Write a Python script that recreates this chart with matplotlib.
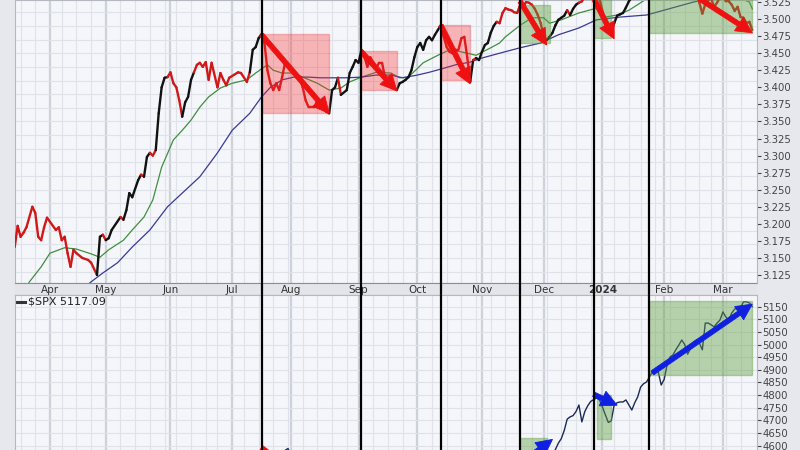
import numpy as np
import pandas as pd
import matplotlib
matplotlib.use("Agg")
import matplotlib.pyplot as plt
from matplotlib.collections import LineCollection
from matplotlib.patches import Rectangle, Polygon

# trading calendar (one slot per session, like the original chart)
holidays = ["2023-04-07", "2023-05-29", "2023-06-19", "2023-07-04", "2023-09-04",
            "2023-11-23", "2023-12-25", "2024-01-01", "2024-01-15", "2024-02-19"]
sessions = pd.bdate_range("2023-03-16", "2024-03-15", freq="C", holidays=holidays)

# ratio line (top panel)
price_dates = [
    "2023-03-16", "2023-03-17", "2023-03-20", "2023-03-21", "2023-03-22", "2023-03-24", "2023-03-27",
    "2023-03-28", "2023-03-29", "2023-03-30", "2023-03-31", "2023-04-05", "2023-04-06", "2023-04-10",
    "2023-04-11", "2023-04-12", "2023-04-13", "2023-04-14", "2023-04-17", "2023-04-19", "2023-04-21",
    "2023-04-24", "2023-04-26", "2023-04-27", "2023-04-28", "2023-05-01", "2023-05-02", "2023-05-03",
    "2023-05-08", "2023-05-09", "2023-05-10", "2023-05-11", "2023-05-12", "2023-05-16", "2023-05-17",
    "2023-05-18", "2023-05-19", "2023-05-22", "2023-05-23", "2023-05-24", "2023-05-25", "2023-05-26",
    "2023-05-30", "2023-05-31", "2023-06-01", "2023-06-02", "2023-06-05", "2023-06-06", "2023-06-07",
    "2023-06-08", "2023-06-09", "2023-06-12", "2023-06-13", "2023-06-14", "2023-06-15", "2023-06-16",
    "2023-06-20", "2023-06-21", "2023-06-22", "2023-06-26", "2023-06-27", "2023-06-28", "2023-06-29",
    "2023-06-30", "2023-07-06", "2023-07-07", "2023-07-11", "2023-07-12", "2023-07-13", "2023-07-14",
    "2023-07-17", "2023-07-18", "2023-07-19", "2023-07-20", "2023-07-21", "2023-07-24", "2023-07-25",
    "2023-07-26", "2023-07-27", "2023-07-28", "2023-07-31", "2023-08-01", "2023-08-02", "2023-08-03",
    "2023-08-04", "2023-08-07", "2023-08-08", "2023-08-09", "2023-08-11", "2023-08-14", "2023-08-15",
    "2023-08-17", "2023-08-18", "2023-08-21", "2023-08-22", "2023-08-23", "2023-08-24", "2023-08-28",
    "2023-08-29", "2023-08-30", "2023-08-31", "2023-09-01", "2023-09-05", "2023-09-06", "2023-09-07",
    "2023-09-08", "2023-09-11", "2023-09-12", "2023-09-13", "2023-09-14", "2023-09-15", "2023-09-18",
    "2023-09-19", "2023-09-21", "2023-09-22", "2023-09-25", "2023-09-26", "2023-09-27", "2023-09-28",
    "2023-09-29", "2023-10-02", "2023-10-03", "2023-10-04", "2023-10-05", "2023-10-06", "2023-10-09",
    "2023-10-10", "2023-10-11", "2023-10-12", "2023-10-13", "2023-10-16", "2023-10-17", "2023-10-18",
    "2023-10-19", "2023-10-20", "2023-10-23", "2023-10-24", "2023-10-25", "2023-10-26", "2023-10-27",
    "2023-10-30", "2023-10-31", "2023-11-01", "2023-11-02", "2023-11-03", "2023-11-06", "2023-11-07",
    "2023-11-08", "2023-11-09", "2023-11-10", "2023-11-13", "2023-11-14", "2023-11-15", "2023-11-16",
    "2023-11-17", "2023-11-20", "2023-11-21", "2023-11-22", "2023-11-24", "2023-11-27", "2023-11-28",
    "2023-11-29", "2023-11-30", "2023-12-01", "2023-12-04", "2023-12-05", "2023-12-06", "2023-12-07",
    "2023-12-08", "2023-12-11", "2023-12-12", "2023-12-13", "2023-12-14", "2023-12-15", "2023-12-18",
    "2023-12-19", "2023-12-20", "2023-12-21", "2023-12-22", "2023-12-26", "2023-12-27", "2023-12-28",
    "2023-12-29", "2024-01-02", "2024-01-03", "2024-01-04", "2024-01-05", "2024-01-08", "2024-01-09",
    "2024-01-10", "2024-01-11", "2024-01-12", "2024-01-16", "2024-01-17", "2024-01-18", "2024-01-22",
    "2024-01-25", "2024-01-30", "2024-02-02", "2024-02-07", "2024-02-12", "2024-02-15", "2024-02-16",
    "2024-02-20", "2024-02-21", "2024-02-22", "2024-02-23", "2024-02-26", "2024-02-27", "2024-02-28",
    "2024-02-29", "2024-03-01", "2024-03-04", "2024-03-05", "2024-03-06", "2024-03-07", "2024-03-08",
    "2024-03-11", "2024-03-12", "2024-03-13", "2024-03-14", "2024-03-15"]
price_vals = [
    3.166, 3.197, 3.181, 3.187, 3.195, 3.225, 3.216,
    3.181, 3.176, 3.195, 3.209, 3.191, 3.195, 3.176,
    3.181, 3.157, 3.137, 3.162, 3.157, 3.150, 3.147,
    3.143, 3.125, 3.181, 3.184, 3.176, 3.179, 3.191,
    3.210, 3.206, 3.220, 3.245, 3.239, 3.264, 3.272,
    3.269, 3.298, 3.304, 3.300, 3.308, 3.362, 3.400,
    3.414, 3.415, 3.422, 3.406, 3.400, 3.381, 3.357,
    3.378, 3.386, 3.411, 3.422, 3.433, 3.436, 3.430,
    3.437, 3.411, 3.436, 3.400, 3.421, 3.411, 3.403,
    3.414, 3.422, 3.421, 3.408, 3.422, 3.455, 3.459,
    3.472, 3.478, 3.465, 3.425, 3.406, 3.396, 3.406,
    3.396, 3.415, 3.436, 3.433, 3.428, 3.421, 3.414,
    3.415, 3.400, 3.381, 3.371, 3.371, 3.381, 3.374,
    3.364, 3.362, 3.396, 3.400, 3.414, 3.389, 3.396,
    3.421, 3.430, 3.440, 3.436, 3.455, 3.445, 3.430,
    3.444, 3.437, 3.428, 3.436, 3.436, 3.415, 3.408,
    3.400, 3.396, 3.406, 3.408, 3.411, 3.415, 3.425,
    3.444, 3.459, 3.465, 3.455, 3.469, 3.474, 3.469,
    3.477, 3.484, 3.491, 3.474, 3.459, 3.452, 3.450,
    3.455, 3.455, 3.472, 3.474, 3.444, 3.408, 3.440,
    3.443, 3.440, 3.452, 3.462, 3.465, 3.480, 3.490,
    3.496, 3.494, 3.509, 3.516, 3.514, 3.513, 3.510,
    3.509, 3.521, 3.518, 3.525, 3.524, 3.521, 3.515,
    3.506, 3.494, 3.474, 3.469, 3.474, 3.480, 3.491,
    3.499, 3.502, 3.505, 3.513, 3.506, 3.515, 3.521,
    3.524, 3.526, 3.533, 3.536, 3.540, 3.538, 3.534,
    3.530, 3.512, 3.493, 3.486, 3.481, 3.494, 3.505,
    3.507, 3.509, 3.517, 3.526, 3.532, 3.535, 3.545,
    3.550, 3.545, 3.548, 3.555, 3.552, 3.545, 3.535,
    3.524, 3.508, 3.522, 3.528, 3.530, 3.518, 3.524,
    3.532, 3.535, 3.526, 3.526, 3.521, 3.512, 3.518,
    3.503, 3.502, 3.494, 3.496, 3.484]

# stretches where the line is drawn red
red_spans = [("2023-03-16", "2023-04-26"), ("2023-04-28", "2023-05-01"), ("2023-05-08", "2023-05-09"),
             ("2023-05-17", "2023-05-18"), ("2023-05-22", "2023-05-24"), ("2023-05-31", "2023-06-07"),
             ("2023-06-13", "2023-07-12"), ("2023-07-18", "2023-08-18"), ("2023-08-23", "2023-08-24"),
             ("2023-09-05", "2023-09-21"), ("2023-10-12", "2023-10-26"), ("2023-10-27", "2023-10-30"),
             ("2023-11-08", "2023-12-04"), ("2023-12-13", "2023-12-14"), ("2023-12-19", "2024-01-04"),
             ("2024-02-16", "2024-03-15")]

ma_fast_dates = ["2023-03-21", "2023-03-23", "2023-03-29", "2023-04-03", "2023-04-11", "2023-04-17",
                 "2023-04-24", "2023-04-27", "2023-05-02", "2023-05-09", "2023-05-12", "2023-05-18",
                 "2023-05-23", "2023-05-26", "2023-06-02", "2023-06-07", "2023-06-12", "2023-06-15",
                 "2023-06-21", "2023-06-27", "2023-07-03", "2023-07-11", "2023-07-14", "2023-07-20",
                 "2023-07-24", "2023-07-27", "2023-08-02", "2023-08-07", "2023-08-14", "2023-08-18",
                 "2023-08-24", "2023-08-29", "2023-09-05", "2023-09-12", "2023-09-19", "2023-09-22",
                 "2023-09-27", "2023-10-04", "2023-10-11", "2023-10-17", "2023-10-23", "2023-10-30",
                 "2023-11-06", "2023-11-09", "2023-11-13", "2023-11-20", "2023-11-27", "2023-12-01",
                 "2023-12-05", "2023-12-11", "2023-12-19", "2023-12-28", "2024-01-03", "2024-01-09",
                 "2024-01-16", "2024-01-22", "2024-01-29", "2024-02-07", "2024-02-16", "2024-02-29",
                 "2024-03-08", "2024-03-14", "2024-03-15"]
ma_fast_vals = [3.100, 3.115, 3.137, 3.157, 3.165, 3.163,
                3.156, 3.151, 3.162, 3.176, 3.191, 3.210,
                3.235, 3.283, 3.323, 3.337, 3.352, 3.371,
                3.386, 3.399, 3.406, 3.411, 3.421, 3.433,
                3.425, 3.421, 3.421, 3.415, 3.406, 3.396,
                3.399, 3.408, 3.415, 3.422, 3.421, 3.414,
                3.415, 3.436, 3.447, 3.455, 3.452, 3.447,
                3.458, 3.465, 3.474, 3.491, 3.502, 3.502,
                3.494, 3.499, 3.509, 3.516, 3.503, 3.506,
                3.513, 3.524, 3.538, 3.545, 3.546, 3.540,
                3.532, 3.525, 3.515]

ma_slow_dates = ["2023-04-19", "2023-04-24", "2023-04-28", "2023-05-05", "2023-05-12", "2023-05-22",
                 "2023-05-31", "2023-06-07", "2023-06-15", "2023-06-26", "2023-07-03", "2023-07-12",
                 "2023-07-18", "2023-07-21", "2023-07-27", "2023-08-02", "2023-08-09", "2023-08-15",
                 "2023-08-21", "2023-08-28", "2023-09-05", "2023-09-12", "2023-09-19", "2023-09-25",
                 "2023-10-02", "2023-10-06", "2023-10-13", "2023-10-19", "2023-10-26", "2023-11-01",
                 "2023-11-09", "2023-11-20", "2023-11-30", "2023-12-08", "2023-12-19", "2023-12-28",
                 "2024-01-10", "2024-01-24", "2024-02-15", "2024-03-01", "2024-03-15"]
ma_slow_vals = [3.104, 3.115, 3.128, 3.143, 3.166, 3.191,
                3.225, 3.245, 3.269, 3.304, 3.337, 3.362,
                3.386, 3.400, 3.411, 3.415, 3.415, 3.414,
                3.414, 3.414, 3.415, 3.418, 3.418, 3.414,
                3.418, 3.422, 3.428, 3.433, 3.437, 3.443,
                3.450, 3.458, 3.465, 3.477, 3.487, 3.499,
                3.503, 3.506, 3.525, 3.535, 3.542]

# $SPX (bottom panel); most of 2023 sits below the visible range
spx_dates = ["2023-03-16", "2023-03-31", "2023-04-28", "2023-05-31", "2023-06-15", "2023-06-30",
             "2023-07-19", "2023-07-26", "2023-07-31", "2023-08-03", "2023-08-18", "2023-09-01",
             "2023-09-21", "2023-10-12", "2023-10-27", "2023-11-14", "2023-11-30", "2023-12-05",
             "2023-12-06", "2023-12-07", "2023-12-08", "2023-12-11", "2023-12-12", "2023-12-13",
             "2023-12-14", "2023-12-15", "2023-12-18", "2023-12-19", "2023-12-20", "2023-12-21",
             "2023-12-22", "2023-12-26", "2023-12-27", "2023-12-28", "2023-12-29", "2024-01-02",
             "2024-01-03", "2024-01-04", "2024-01-05", "2024-01-08", "2024-01-09", "2024-01-10",
             "2024-01-11", "2024-01-12", "2024-01-16", "2024-01-17", "2024-01-18", "2024-01-19",
             "2024-01-22", "2024-01-23", "2024-01-24", "2024-01-25", "2024-01-26", "2024-01-29",
             "2024-01-30", "2024-01-31", "2024-02-01", "2024-02-02", "2024-02-05", "2024-02-06",
             "2024-02-07", "2024-02-08", "2024-02-09", "2024-02-12", "2024-02-13", "2024-02-14",
             "2024-02-15", "2024-02-16", "2024-02-20", "2024-02-21", "2024-02-22", "2024-02-23",
             "2024-02-26", "2024-02-27", "2024-02-28", "2024-02-29", "2024-03-01", "2024-03-04",
             "2024-03-05", "2024-03-06", "2024-03-07", "2024-03-08", "2024-03-11", "2024-03-12",
             "2024-03-13", "2024-03-14", "2024-03-15"]
spx_vals = [3960, 4109, 4169, 4180, 4426, 4450,
            4565, 4566, 4589, 4501, 4370, 4515,
            4330, 4349, 4117, 4496, 4568, 4567,
            4560, 4585, 4610, 4628, 4660, 4705,
            4714, 4719, 4735, 4761, 4694, 4735,
            4758, 4775, 4782, 4789, 4781, 4753,
            4722, 4692, 4698, 4761, 4770, 4773,
            4773, 4781, 4761, 4741, 4770, 4793,
            4832, 4845, 4852, 4872, 4892, 4900,
            4892, 4840, 4862, 4919, 4951, 4959,
            4980, 4998, 5018, 5000, 4962, 4985,
            5010, 5018, 5006, 4979, 5085, 5085,
            5078, 5070, 5085, 5097, 5129, 5109,
            5097, 5125, 5140, 5149, 5145, 5169,
            5169, 5165, 5150]

# annotations drawn on the chart
red_boxes = [("2023-07-18", "2023-08-18", 3.362, 3.478),
             ("2023-09-05", "2023-09-21", 3.396, 3.453),
             ("2023-10-12", "2023-10-26", 3.411, 3.491)]
green_boxes = [("2023-11-20", "2023-12-05", 3.465, 3.521),
               ("2023-12-27", "2024-01-05", 3.472, 3.560),
               ("2024-01-25", "2024-03-15", 3.480, 3.560)]
red_arrows = [("2023-07-18", 3.477, "2023-08-18", 3.362),
              ("2023-09-05", 3.452, "2023-09-21", 3.395),
              ("2023-10-12", 3.491, "2023-10-26", 3.405),
              ("2023-11-20", 3.526, "2023-12-04", 3.462),
              ("2023-12-27", 3.531, "2024-01-08", 3.471),
              ("2024-02-20", 3.530, "2024-03-15", 3.480)]
spx_boxes = [("2023-11-20", "2023-12-04", 4450, 4630),
             ("2023-12-28", "2024-01-05", 4627, 4801),
             ("2024-01-25", "2024-03-15", 4880, 5173)]
spx_blue_arrows = [("2023-11-28", 4572, "2023-12-06", 4625),
                   ("2023-12-27", 4803, "2024-01-09", 4760),
                   ("2024-01-26", 4888, "2024-03-15", 5160)]
spx_red_arrows = [("2023-07-18", 4592, "2023-08-18", 4380)]
event_lines = ["2023-07-18", "2023-09-05", "2023-10-12", "2023-11-20", "2023-12-27", "2024-01-25"]

top_ticks = np.arange(3.125, 3.5251, 0.025)
spx_ticks = np.arange(4600, 5151, 50)
month_names = ["Apr", "May", "Jun", "Jul", "Aug", "Sep", "Oct", "Nov", "Dec", "2024", "Feb", "Mar"]


def pos(dates):
    return sessions.searchsorted(pd.to_datetime(dates))


def pos1(d):
    return pos([d])[0]


bg = "#f4f6fa"
fig = plt.figure(figsize=(8, 4.5), dpi=100, facecolor="#e6e8ed")
L, W = 15 / 800, 742 / 800
ax1 = fig.add_axes([L, 167 / 450, W, 283 / 450])
strip = fig.add_axes([L, 155 / 450, W, 12 / 450])
ax2 = fig.add_axes([L, 0, W, 155 / 450])

xlim = (0.1, 252.6)
week_start = [i for i in range(1, len(sessions)) if sessions[i].week != sessions[i - 1].week]
month_start = [i for i in range(1, len(sessions)) if sessions[i].month != sessions[i - 1].month]

for ax in (ax1, ax2):
    ax.set_facecolor(bg)
    ax.set_xlim(*xlim)
    for i in week_start:
        ax.axvline(i, color="#dfe2e8", lw=0.8, zorder=0)
    for i in month_start:
        ax.axvline(i, color="#cdd1d8", lw=1.6, zorder=0)
    ax.yaxis.tick_right()
    ax.tick_params(axis="y", labelsize=7.3, colors="#444444", length=3, pad=1, width=0.8)
    ax.set_xticks([])
    for s in ax.spines.values():
        s.set_color("#b4b8c0")
        s.set_linewidth(0.8)

# top panel
ax1.set_ylim(3.1133, 3.528)
ax1.set_yticks(top_ticks)
ax1.set_yticklabels(["%.3f" % t for t in top_ticks])
for g in np.arange(3.13, 3.53, 0.02):
    ax1.axhline(g, color="#dfe2e8", lw=0.8, zorder=0)

px = pos(price_dates)
pv = np.array(price_vals)
spans = [(pos1(a), pos1(b)) for a, b in red_spans]
segs, cols = [], []
for k in range(len(px) - 1):
    segs.append([(px[k], pv[k]), (px[k + 1], pv[k + 1])])
    red = any(a <= px[k] and px[k + 1] <= b for a, b in spans)
    cols.append("#d01818" if red else "#111111")
ax1.add_collection(LineCollection(segs, colors=cols, linewidths=1.7, zorder=3,
                                  capstyle="round", joinstyle="round"))
ax1.plot(pos(ma_fast_dates), ma_fast_vals, color="#3f8f3f", lw=0.9, zorder=2)
ax1.plot(pos(ma_slow_dates), ma_slow_vals, color="#3a3a96", lw=0.9, zorder=2)

for a, b, lo, hi in red_boxes:
    ax1.add_patch(Rectangle((pos1(a), lo), pos1(b) - pos1(a), hi - lo, facecolor="#ff2a2a",
                            alpha=0.32, edgecolor="#e04040", lw=1, zorder=4))
for a, b, lo, hi in green_boxes:
    ax1.add_patch(Rectangle((pos1(a), lo), pos1(b) - pos1(a), hi - lo, facecolor="#5f9f3f",
                            alpha=0.42, edgecolor="#5f9f3f", lw=1, zorder=4))


def arrow(ax, a, va, b, vb, color, hl=16.0, hw=8.0, sw=2.4):
    # thick arrow with a big head, built in pixel space then mapped back to data
    p0 = ax.transData.transform((pos1(a), va))
    p1 = ax.transData.transform((pos1(b), vb))
    d = p1 - p0
    u = d / np.hypot(*d)
    n = np.array([-u[1], u[0]])
    base = p1 - u * hl
    pts = [p0 + n * sw, base + n * sw, base + n * hw, p1, base - n * hw, base - n * sw, p0 - n * sw]
    ax.add_patch(Polygon(ax.transData.inverted().transform(pts), closed=True,
                         facecolor=color, edgecolor=color, lw=0.6, zorder=7))


for a, va, b, vb in red_arrows:
    arrow(ax1, a, va, b, vb, "#ee1111")

# date strip
strip.set_facecolor("#e3e5ea")
strip.set_xlim(*xlim)
strip.set_ylim(0, 1)
strip.set_xticks([])
strip.set_yticks([])
for side in ("left", "right"):
    strip.spines[side].set_visible(False)
for side in ("top", "bottom"):
    strip.spines[side].set_linestyle((0, (1, 1)))
    strip.spines[side].set_color("#8a8d94")
    strip.spines[side].set_linewidth(0.8)
for i, name in zip(month_start, month_names):
    strip.text(i, 0.45, name, ha="center", va="center", fontsize=7.5, color="#333333",
               fontweight="bold" if name == "2024" else "normal")

# bottom panel
ax2.set_ylim(4583, 5196)
ax2.set_yticks(spx_ticks)
ax2.set_yticklabels([str(t) for t in spx_ticks])
for g in spx_ticks:
    ax2.axhline(g, color="#dfe2e8", lw=0.8, zorder=0)
ax2.plot(pos(spx_dates), spx_vals, color="#1c2a58", lw=1.0, zorder=3)
for a, b, lo, hi in spx_boxes:
    ax2.add_patch(Rectangle((pos1(a), lo), pos1(b) - pos1(a), hi - lo, facecolor="#5f9f3f",
                            alpha=0.42, edgecolor="#5f9f3f", lw=1, zorder=4))
for a, va, b, vb in spx_blue_arrows:
    arrow(ax2, a, va, b, vb, "#1020e0")
for a, va, b, vb in spx_red_arrows:
    arrow(ax2, a, va, b, vb, "#ee1111")
ax2.plot([0.003, 0.013], [0.955, 0.955], transform=ax2.transAxes, color="#333333", lw=2.2)
ax2.text(0.017, 0.955, r"\$SPX 5117.09", transform=ax2.transAxes, fontsize=8,
         color="#222222", va="center", ha="left")

for ax in (ax1, strip, ax2):
    for d in event_lines:
        ax.axvline(pos1(d), color="black", lw=1.6, zorder=8)

fig.savefig("out.png", dpi=100, facecolor=fig.get_facecolor())
